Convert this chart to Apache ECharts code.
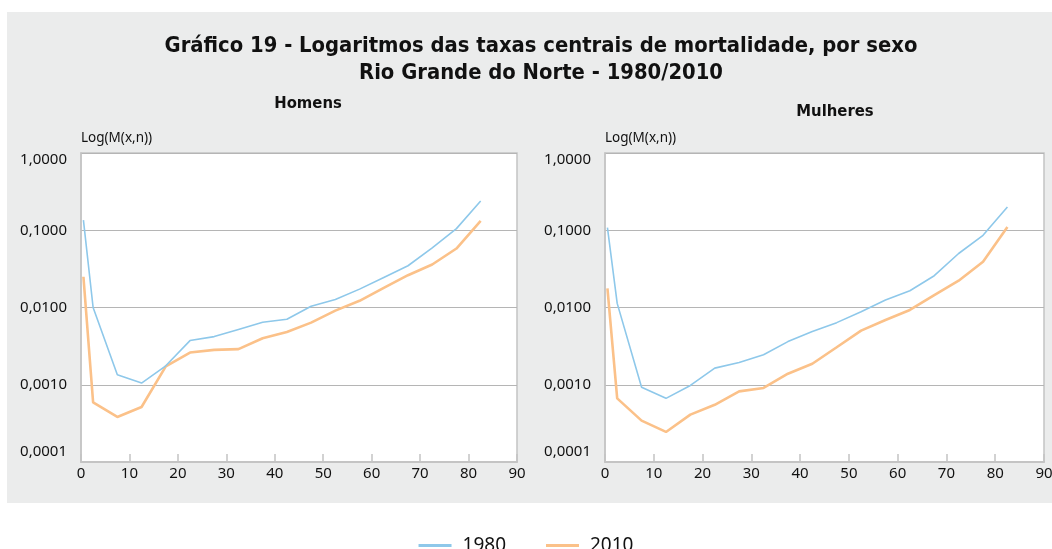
<!DOCTYPE html>
<html>
<head>
<meta charset="utf-8">
<script src="https://cdn.jsdelivr.net/npm/echarts@6/dist/echarts.min.js"></script>
<style>
html,body{margin:0;padding:0;background:#fff;}
#chart{width:1052px;height:549px;}
</style>
</head>
<body>
<div id="chart"></div>
<script>
var titleLine1 = 'Gráfico 19 - Logaritmos das taxas centrais de mortalidade, por sexo';
var titleLine2 = 'Rio Grande do Norte - 1980/2010';
var panelTitles = ['Homens', 'Mulheres'];
var yAxisName = 'Log(M(x,n))';
var seriesNames = ['1980', '2010'];
var ages = [0.5, 2.5, 7.5, 12.5, 17.5, 22.5, 27.5, 32.5, 37.5, 42.5, 47.5, 52.5, 57.5, 62.5, 67.5, 72.5, 77.5, 82.5];
var homens1980 = [0.135, 0.0100, 0.00135, 0.00105, 0.00176, 0.00373, 0.0042, 0.0052, 0.00644, 0.00703, 0.0104, 0.0127, 0.0173, 0.0245, 0.0347, 0.059, 0.105, 0.239];
var homens2010 = [0.025, 0.00059, 0.000383, 0.000515, 0.00173, 0.00261, 0.00283, 0.00289, 0.0040, 0.00483, 0.00637, 0.0091, 0.0122, 0.018, 0.0262, 0.036, 0.058, 0.132];
var mulheres1980 = [0.108, 0.0113, 0.00093, 0.000667, 0.00098, 0.00164, 0.00194, 0.00244, 0.00362, 0.00488, 0.00637, 0.0088, 0.0125, 0.0165, 0.0258, 0.050, 0.086, 0.20];
var mulheres2010 = [0.0177, 0.000667, 0.000343, 0.000245, 0.00041, 0.00055, 0.00082, 0.00091, 0.00139, 0.00187, 0.00306, 0.00502, 0.0069, 0.0093, 0.0145, 0.0222, 0.039, 0.110];
var yMin = 0.0001, yMax = 1;
var xMin = 0, xMax = 90, xInterval = 10;

var blue = '#8ec8ea';
var orange = '#fbc189';
var labelFont = "'Noto Sans', 'Liberation Sans', sans-serif";
var headFont = "'Liberation Sans Narrow', 'DejaVu Sans Condensed', 'Liberation Sans', sans-serif";

function pairs(arr) { return ages.map(function (a, i) { return [a, arr[i]]; }); }

function yLabel(v) {
  var s = v.toFixed(4).replace('.', ',');
  if (Math.abs(v - yMax) < 1e-12) return '{top|' + s + '}';
  if (Math.abs(v - yMin) < 1e-12) return '{bot|' + s + '}';
  return '{n|' + s + '}';
}

var grids = [
  {left: 81, right: 535, top: 153, bottom: 87},
  {left: 605, right: 8, top: 153, bottom: 87}
];

function makeX(i) {
  return {
    type: 'value', gridIndex: i, min: xMin, max: xMax, interval: xInterval,
    axisLine: {show: true, lineStyle: {color: '#c4c4c4', width: 2}},
    axisTick: {show: true, inside: true, length: 8, lineStyle: {color: '#c4c4c4', width: 1.5}},
    axisLabel: {color: '#111', fontSize: 15, fontFamily: labelFont, margin: 4},
    splitLine: {show: false}
  };
}
function makeY(i) {
  return {
    type: 'log', logBase: 10, gridIndex: i, min: yMin, max: yMax,
    name: yAxisName, nameLocation: 'end', nameGap: 8,
    nameTextStyle: {align: 'left', color: '#111', fontSize: 13.5, fontFamily: labelFont},
    axisLine: {show: true, lineStyle: {color: '#c4c4c4', width: 1.5}},
    axisTick: {show: false},
    axisLabel: {
      color: '#111', fontSize: 15, fontFamily: labelFont, margin: 14,
      formatter: yLabel,
      rich: {
        n: {fontSize: 15, fontFamily: labelFont, color: '#111'},
        top: {fontSize: 15, fontFamily: labelFont, color: '#111', padding: [13, 0, 0, 0]},
        bot: {fontSize: 15, fontFamily: labelFont, color: '#111', padding: [0, 0, 20, 0]}
      }
    },
    splitLine: {show: true, lineStyle: {color: '#b5b5b5', width: 1.2}}
  };
}

function makeSeries(name, data, color, width, gi) {
  return {
    name: name, type: 'line', xAxisIndex: gi, yAxisIndex: gi,
    data: pairs(data), showSymbol: false, symbol: 'none', smooth: false,
    lineStyle: {color: color, width: width}, itemStyle: {color: color},
    emphasis: {disabled: true}, z: name === seriesNames[1] ? 3 : 4
  };
}

var chart = echarts.init(document.getElementById('chart'), null, {renderer: 'canvas'});
chart.setOption({
  animation: false,
  backgroundColor: '#ffffff',
  graphic: [
    {type: 'rect', z: -10, silent: true, shape: {x: 7, y: 12, width: 1060, height: 491}, style: {fill: '#ebecec'}}
  ],
  title: [
    {text: titleLine1 + '\n' + titleLine2, left: 536, top: 28, textAlign: 'center',
      textStyle: {fontSize: 21.8, fontWeight: 'bold', color: '#111', lineHeight: 27, fontFamily: headFont}},
    {text: panelTitles[0], left: 303, top: 90, textAlign: 'center',
      textStyle: {fontSize: 16.5, fontWeight: 'bold', color: '#111', fontFamily: headFont}},
    {text: panelTitles[1], left: 830, top: 98, textAlign: 'center',
      textStyle: {fontSize: 16.5, fontWeight: 'bold', color: '#111', fontFamily: headFont}}
  ],
  legend: {
    data: seriesNames, left: 'center', top: 531,
    icon: 'rect', itemWidth: 33, itemHeight: 3, itemGap: 40,
    textStyle: {fontSize: 19, color: '#111', fontFamily: labelFont, padding: [0, 0, 0, 6]}
  },
  grid: grids.map(function (g) {
    return {left: g.left, right: g.right, top: g.top, bottom: g.bottom, show: true,
      backgroundColor: '#ffffff', borderColor: '#c4c4c4', borderWidth: 1.5, containLabel: false, outerBoundsMode: 'none'};
  }),
  xAxis: [makeX(0), makeX(1)],
  yAxis: [makeY(0), makeY(1)],
  series: [
    makeSeries(seriesNames[0], homens1980, blue, 1.6, 0),
    makeSeries(seriesNames[1], homens2010, orange, 2.6, 0),
    makeSeries(seriesNames[0], mulheres1980, blue, 1.6, 1),
    makeSeries(seriesNames[1], mulheres2010, orange, 2.6, 1)
  ]
});
</script>
</body>
</html>
